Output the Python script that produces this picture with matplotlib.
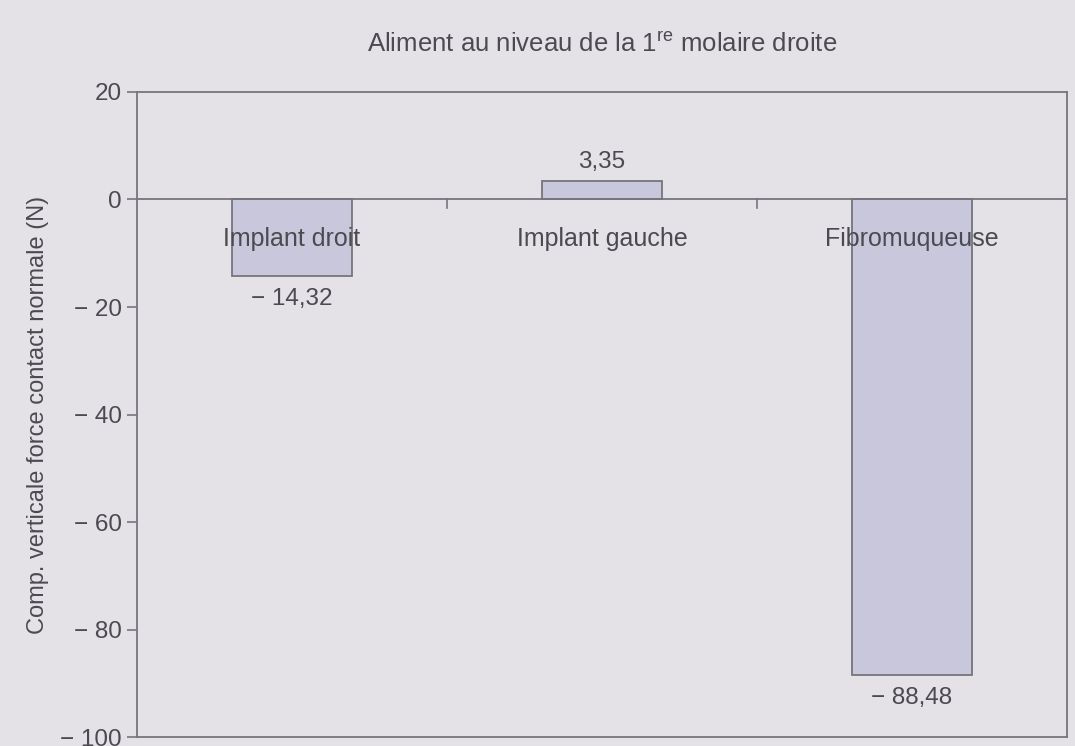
import numpy as np
import matplotlib
matplotlib.use("Agg")
import matplotlib.pyplot as plt

plt.rcParams['font.family'] = ['Liberation Sans', 'DejaVu Sans']
plt.rcParams['mathtext.fontset'] = 'custom'
plt.rcParams['mathtext.rm'] = 'Liberation Sans'

categories = ["Implant droit", "Implant gauche", "Fibromuqueuse"]
values = [-14.32, 3.35, -88.48]
value_labels = ["\u2212 14,32", "3,35", "\u2212 88,48"]
yticks = [20, 0, -20, -40, -60, -80, -100]
ytick_labels = ["20", "0", "\u2212 20", "\u2212 40", "\u2212 60", "\u2212 80", "\u2212 100"]

bg = '#e4e2e7'
txt = '#4a4a50'
line = '#75757c'

fig = plt.figure(figsize=(10.75, 7.46), dpi=100, facecolor=bg)
ax = fig.add_axes([0.1274, 0.012, 0.8652, 0.8647], facecolor=bg)

x = np.arange(len(categories))
ax.bar(x, values, width=0.39, color='#c9c7dc', edgecolor=line, linewidth=1.3, zorder=2)

ax.set_xlim(-0.5, 2.5)
ax.set_ylim(-100, 20)
ax.set_yticks(yticks)
ax.set_yticklabels(ytick_labels)
ax.tick_params(axis='y', colors=line, labelcolor=txt, labelsize=17.5, length=7, width=1.2,
               direction='out', pad=4)
ax.set_xticks([])

# zero line with small separators between categories
ax.axhline(0, color=line, linewidth=1.3, zorder=3)
for xs in [0.5, 1.5]:
    ax.plot([xs, xs], [0, -1.5], color=line, linewidth=1.2, zorder=3)

for s in ax.spines.values():
    s.set_color(line)
    s.set_linewidth(1.3)

# category names
for xi, c in zip(x, categories):
    ax.text(xi, -7.3, c, ha='center', va='center', fontsize=18, color=txt, zorder=4)

# value labels
for xi, v, lab in zip(x, values, value_labels):
    if v > 0:
        ax.text(xi, v + 3.6, lab, ha='center', va='center', fontsize=17.5, color=txt)
    else:
        ax.text(xi, v - 4.2, lab, ha='center', va='center', fontsize=17.5, color=txt)

ax.set_ylabel("Comp. verticale force contact normale (N)", fontsize=17, color=txt, labelpad=8)
fig.text(0.56, 0.94, "Aliment au niveau de la 1$^{\\mathrm{re}}$ molaire droite",
         ha='center', va='center', fontsize=18.5, color=txt)

fig.savefig("out.png", dpi=100, facecolor=bg)
